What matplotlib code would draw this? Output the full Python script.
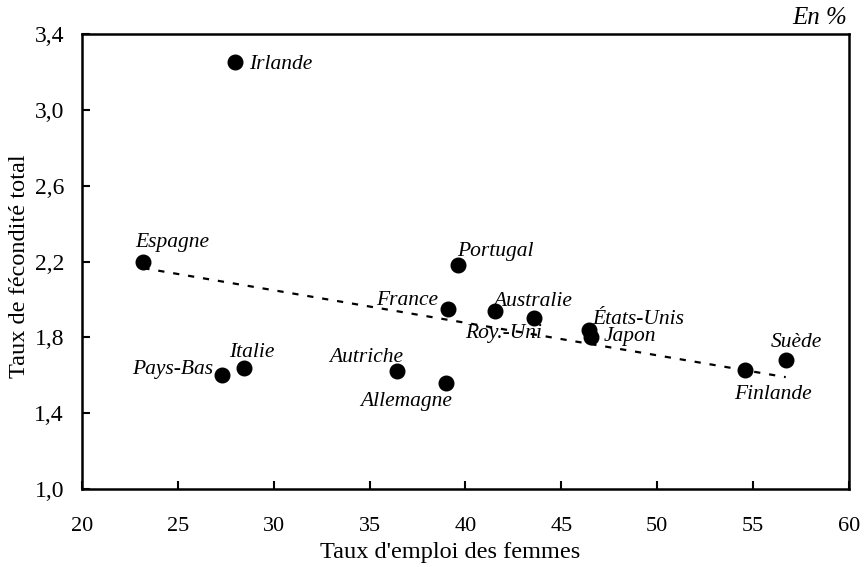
import numpy as np
import matplotlib
matplotlib.use('Agg')
import matplotlib.pyplot as plt

plt.rcParams['font.family'] = ['Liberation Serif', 'DejaVu Serif']

# data
pays = ['Irlande', 'Espagne', 'Pays-Bas', 'Italie', 'Autriche', 'Allemagne',
        'France', 'Portugal', 'Australie', 'Roy.-Uni', 'États-Unis', 'Japon',
        'Suède', 'Finlande']
emploi = [28.0, 23.2, 27.3, 28.45, 36.45, 39.0, 39.1, 39.6, 41.55, 43.55,
          46.45, 46.55, 56.7, 54.6]
fecondite = [3.25, 2.20, 1.60, 1.64, 1.62, 1.56, 1.95, 2.18, 1.94, 1.90,
             1.84, 1.80, 1.68, 1.63]
tendance_x = [23.2, 56.7]
tendance_y = [2.165, 1.59]

xticks = [20, 25, 30, 35, 40, 45, 50, 55, 60]
yticks = [1.0, 1.4, 1.8, 2.2, 2.6, 3.0, 3.4]

# label placement (pixels offset, ha)
lab_pos = {
    'Irlande': (14, -7, 'left'),
    'Espagne': (-8, 15, 'left'),
    'Pays-Bas': (-9, 1, 'right'),
    'Italie': (-15, 11, 'left'),
    'Autriche': (6, 9, 'right'),
    'Allemagne': (6, -23, 'right'),
    'France': (-10, 4, 'right'),
    'Portugal': (-1, 9, 'left'),
    'Australie': (-2, 5, 'left'),
    'Roy.-Uni': (9, -20, 'right'),
    'États-Unis': (3, 6, 'left'),
    'Japon': (13, -4, 'left'),
    'Suède': (-15, 13, 'left'),
    'Finlande': (-11, -29, 'left'),
}

fig = plt.figure(figsize=(8.65, 5.67), dpi=100)
ax = fig.add_axes([82/865, 1-489/567, 767/865, 455/567])

ax.plot(tendance_x, tendance_y, color='black', lw=1.6, linestyle=(0, (2.8, 4.0)), zorder=2)
ax.plot(emploi, fecondite, 'o', color='black', markersize=10.5, zorder=3)

for p, x, y in zip(pays, emploi, fecondite):
    dx, dy, ha = lab_pos[p]
    ax.annotate(p, (x, y), xytext=(dx, dy), textcoords='offset pixels',
                ha=ha, va='baseline', fontsize=15.5, style='italic', zorder=4)

ax.set_xlim(20, 60)
ax.set_ylim(1.0, 3.4)
ax.set_xticks(xticks)
ax.set_yticks(yticks)
ax.set_xticklabels([str(t) for t in xticks])
ax.set_yticklabels([f'{t:.1f}'.replace('.', ',') for t in yticks])
ax.tick_params(direction='in', length=6, width=1.5)
ax.tick_params(axis='y', labelsize=17, pad=13)
ax.tick_params(axis='x', labelsize=16, pad=20)
for s in ax.spines.values():
    s.set_linewidth(1.8)

fig.text(450/865, 1-558/567, "Taux d'emploi des femmes", ha='center', va='baseline', fontsize=17.5)
ax.set_ylabel('Taux de fécondité total', fontsize=17.5)
ax.yaxis.set_label_coords((30-82)/767, (489-266)/455)

fig.text(847/865, 1-23.5/567, 'En %', ha='right', va='baseline', fontsize=18, style='italic')

plt.savefig('out.png', dpi=100)
plt.close()
